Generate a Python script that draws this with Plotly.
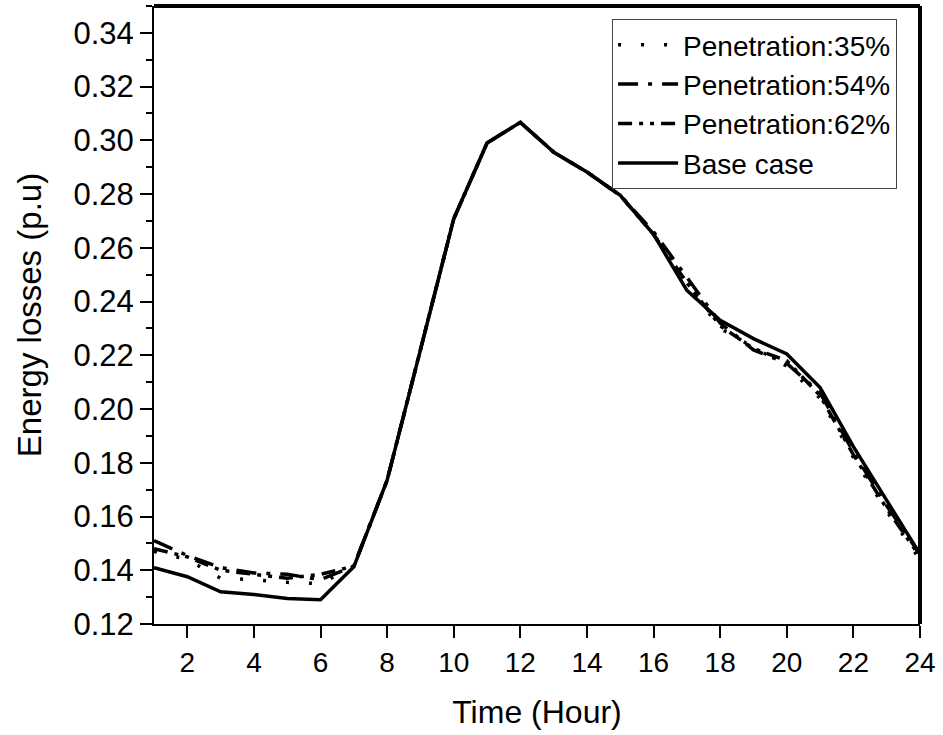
import plotly.graph_objects as go

hours = list(range(1, 25))
pen35 = [0.147, 0.144, 0.137, 0.1365, 0.1355, 0.135, 0.1415, 0.1735, 0.222, 0.2708, 0.2990, 0.3067,
         0.2956, 0.2882, 0.2795, 0.265, 0.247, 0.230, 0.223, 0.216, 0.204, 0.182, 0.162, 0.144]
pen54 = [0.151, 0.1455, 0.141, 0.139, 0.1385, 0.1365, 0.1415, 0.1735, 0.222, 0.2708, 0.2990, 0.3067,
         0.2956, 0.2882, 0.2795, 0.266, 0.249, 0.232, 0.222, 0.217, 0.206, 0.184, 0.164, 0.146]
pen62 = [0.148, 0.145, 0.140, 0.1385, 0.137, 0.1385, 0.1415, 0.1735, 0.222, 0.2708, 0.2990, 0.3067,
         0.2956, 0.2882, 0.2795, 0.265, 0.247, 0.231, 0.2225, 0.218, 0.205, 0.183, 0.163, 0.145]
base = [0.141, 0.1376, 0.132, 0.131, 0.1295, 0.129, 0.1413, 0.1735, 0.222, 0.2708, 0.2990, 0.3067,
        0.2956, 0.2882, 0.2795, 0.265, 0.2442, 0.233, 0.2262, 0.2205, 0.208, 0.186, 0.166, 0.146]

series = [
    ("Penetration:35%", pen35, "3px,20px"),
    ("Penetration:54%", pen54, "20px,10px,4px,10px"),
    ("Penetration:62%", pen62, "14px,7px,4px,7px,4px,7px"),
    ("Base case", base, "solid"),
]

FONT = "Liberation Sans, Arial, sans-serif"

fig = go.Figure()
for i, (name, vals, dash) in enumerate(series):
    fig.add_trace(go.Scatter(
        x=hours, y=vals, mode="lines", name=name, legendgroup=f"g{i}",
        line=dict(color="black", width=3.5, dash=dash),
    ))

fig.update_layout(
    width=943, height=735,
    margin=dict(l=154, r=23, t=6, b=111),
    paper_bgcolor="white", plot_bgcolor="white",
    font=dict(family=FONT, size=26, color="black"),
    showlegend=True,
    legend=dict(
        x=0.598, y=0.979, xanchor="left", yanchor="top",
        bgcolor="white", bordercolor="#444", borderwidth=1,
        font=dict(family=FONT, size=28, color="black"),
        tracegroupgap=0, itemwidth=60,
    ),
    xaxis=dict(
        range=[1, 24], tickmode="array", tickvals=list(range(2, 25, 2)),
        showgrid=False, zeroline=False, showline=True, linecolor="black", linewidth=2,
        ticks="outside", ticklen=12, tickwidth=2, tickcolor="black",
        tickfont=dict(family=FONT, size=28),
        title=dict(text="Time (Hour)", font=dict(family=FONT, size=32), standoff=24),
    ),
    yaxis=dict(
        range=[0.12, 0.35], tickmode="array",
        tickvals=[0.12, 0.14, 0.16, 0.18, 0.20, 0.22, 0.24, 0.26, 0.28, 0.30, 0.32, 0.34],
        tickformat=".2f",
        showgrid=False, zeroline=False, showline=True, linecolor="black", linewidth=2,
        ticks="outside", ticklen=12, tickwidth=2, tickcolor="black",
        minor=dict(dtick=0.01, ticks="outside", ticklen=6, tickwidth=2, tickcolor="black", showgrid=False),
        tickfont=dict(family=FONT, size=31),
        title=dict(text="Energy losses (p.u)", font=dict(family=FONT, size=33), standoff=22),
    ),
    shapes=[
        dict(type="line", xref="paper", yref="paper", x0=0, x1=1, y0=1, y1=1,
             line=dict(color="black", width=4)),
        dict(type="line", xref="paper", yref="paper", x0=1, x1=1, y0=0, y1=1,
             line=dict(color="black", width=4)),
    ],
)

fig.write_html("out.html")
